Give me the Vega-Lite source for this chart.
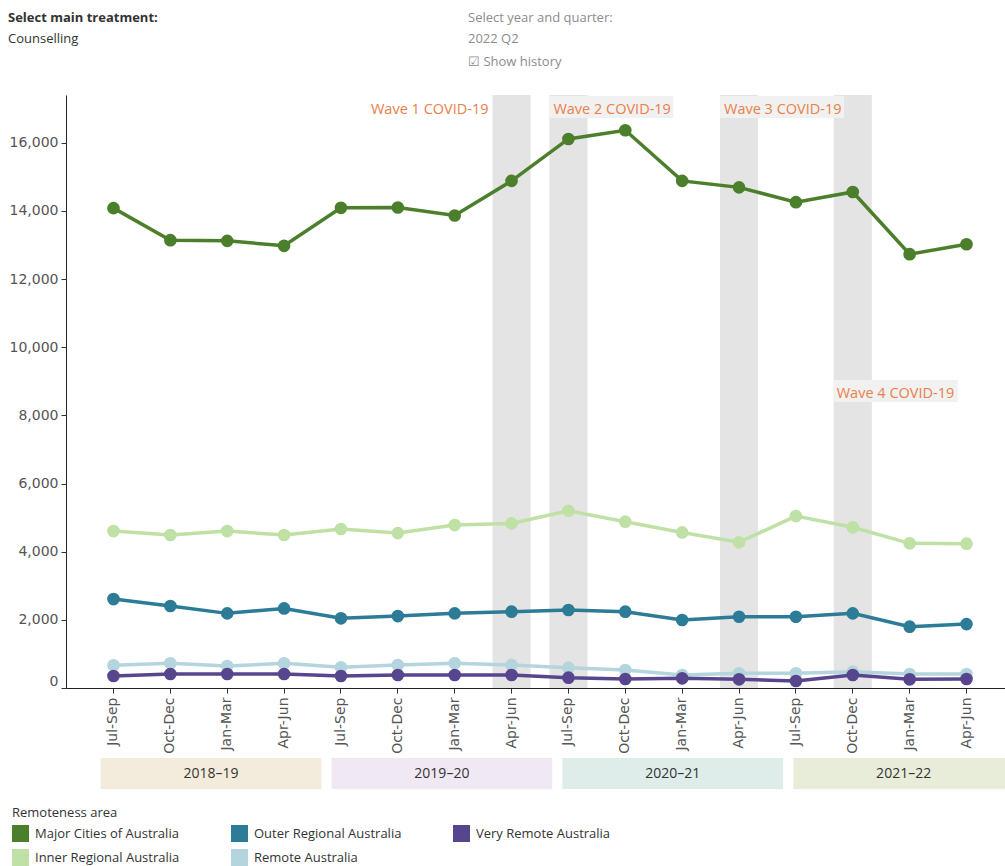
{
  "$schema": "https://vega.github.io/schema/vega-lite/v6.json",
  "background": "white",
  "padding": {"left": 8, "top": 12, "right": 0, "bottom": 0},
  "config": {
    "view": {"stroke": null},
    "font": "Open Sans",
    "axis": {"labelFont": "DejaVu Sans", "labelFontSize": 13, "labelColor": "#555555"},
    "concat": {"spacing": 4}
  },
  "datasets": {
    "series": [
      {"period": "2018–19 Jul-Sep", "area": "Major Cities of Australia", "value": 14080},
      {"period": "2018–19 Oct-Dec", "area": "Major Cities of Australia", "value": 13140},
      {"period": "2018–19 Jan-Mar", "area": "Major Cities of Australia", "value": 13120},
      {"period": "2018–19 Apr-Jun", "area": "Major Cities of Australia", "value": 12975},
      {"period": "2019–20 Jul-Sep", "area": "Major Cities of Australia", "value": 14090},
      {"period": "2019–20 Oct-Dec", "area": "Major Cities of Australia", "value": 14100},
      {"period": "2019–20 Jan-Mar", "area": "Major Cities of Australia", "value": 13865},
      {"period": "2019–20 Apr-Jun", "area": "Major Cities of Australia", "value": 14880},
      {"period": "2020–21 Jul-Sep", "area": "Major Cities of Australia", "value": 16110},
      {"period": "2020–21 Oct-Dec", "area": "Major Cities of Australia", "value": 16365},
      {"period": "2020–21 Jan-Mar", "area": "Major Cities of Australia", "value": 14880},
      {"period": "2020–21 Apr-Jun", "area": "Major Cities of Australia", "value": 14690},
      {"period": "2021–22 Jul-Sep", "area": "Major Cities of Australia", "value": 14255},
      {"period": "2021–22 Oct-Dec", "area": "Major Cities of Australia", "value": 14555},
      {"period": "2021–22 Jan-Mar", "area": "Major Cities of Australia", "value": 12730},
      {"period": "2021–22 Apr-Jun", "area": "Major Cities of Australia", "value": 13020},
      {"period": "2018–19 Jul-Sep", "area": "Inner Regional Australia", "value": 4605},
      {"period": "2018–19 Oct-Dec", "area": "Inner Regional Australia", "value": 4490},
      {"period": "2018–19 Jan-Mar", "area": "Inner Regional Australia", "value": 4605},
      {"period": "2018–19 Apr-Jun", "area": "Inner Regional Australia", "value": 4490},
      {"period": "2019–20 Jul-Sep", "area": "Inner Regional Australia", "value": 4665},
      {"period": "2019–20 Oct-Dec", "area": "Inner Regional Australia", "value": 4545},
      {"period": "2019–20 Jan-Mar", "area": "Inner Regional Australia", "value": 4780},
      {"period": "2019–20 Apr-Jun", "area": "Inner Regional Australia", "value": 4830},
      {"period": "2020–21 Jul-Sep", "area": "Inner Regional Australia", "value": 5200},
      {"period": "2020–21 Oct-Dec", "area": "Inner Regional Australia", "value": 4880},
      {"period": "2020–21 Jan-Mar", "area": "Inner Regional Australia", "value": 4565},
      {"period": "2020–21 Apr-Jun", "area": "Inner Regional Australia", "value": 4275},
      {"period": "2021–22 Jul-Sep", "area": "Inner Regional Australia", "value": 5045},
      {"period": "2021–22 Oct-Dec", "area": "Inner Regional Australia", "value": 4715},
      {"period": "2021–22 Jan-Mar", "area": "Inner Regional Australia", "value": 4245},
      {"period": "2021–22 Apr-Jun", "area": "Inner Regional Australia", "value": 4235},
      {"period": "2018–19 Jul-Sep", "area": "Outer Regional Australia", "value": 2610},
      {"period": "2018–19 Oct-Dec", "area": "Outer Regional Australia", "value": 2405},
      {"period": "2018–19 Jan-Mar", "area": "Outer Regional Australia", "value": 2190},
      {"period": "2018–19 Apr-Jun", "area": "Outer Regional Australia", "value": 2335},
      {"period": "2019–20 Jul-Sep", "area": "Outer Regional Australia", "value": 2045},
      {"period": "2019–20 Oct-Dec", "area": "Outer Regional Australia", "value": 2110},
      {"period": "2019–20 Jan-Mar", "area": "Outer Regional Australia", "value": 2190},
      {"period": "2019–20 Apr-Jun", "area": "Outer Regional Australia", "value": 2240},
      {"period": "2020–21 Jul-Sep", "area": "Outer Regional Australia", "value": 2290},
      {"period": "2020–21 Oct-Dec", "area": "Outer Regional Australia", "value": 2240},
      {"period": "2020–21 Jan-Mar", "area": "Outer Regional Australia", "value": 1995},
      {"period": "2020–21 Apr-Jun", "area": "Outer Regional Australia", "value": 2090},
      {"period": "2021–22 Jul-Sep", "area": "Outer Regional Australia", "value": 2090},
      {"period": "2021–22 Oct-Dec", "area": "Outer Regional Australia", "value": 2190},
      {"period": "2021–22 Jan-Mar", "area": "Outer Regional Australia", "value": 1800},
      {"period": "2021–22 Apr-Jun", "area": "Outer Regional Australia", "value": 1875},
      {"period": "2018–19 Jul-Sep", "area": "Remote Australia", "value": 665},
      {"period": "2018–19 Oct-Dec", "area": "Remote Australia", "value": 724},
      {"period": "2018–19 Jan-Mar", "area": "Remote Australia", "value": 645},
      {"period": "2018–19 Apr-Jun", "area": "Remote Australia", "value": 724},
      {"period": "2019–20 Jul-Sep", "area": "Remote Australia", "value": 606},
      {"period": "2019–20 Oct-Dec", "area": "Remote Australia", "value": 675},
      {"period": "2019–20 Jan-Mar", "area": "Remote Australia", "value": 724},
      {"period": "2019–20 Apr-Jun", "area": "Remote Australia", "value": 675},
      {"period": "2020–21 Jul-Sep", "area": "Remote Australia", "value": 596},
      {"period": "2020–21 Oct-Dec", "area": "Remote Australia", "value": 528},
      {"period": "2020–21 Jan-Mar", "area": "Remote Australia", "value": 381},
      {"period": "2020–21 Apr-Jun", "area": "Remote Australia", "value": 430},
      {"period": "2021–22 Jul-Sep", "area": "Remote Australia", "value": 430},
      {"period": "2021–22 Oct-Dec", "area": "Remote Australia", "value": 479},
      {"period": "2021–22 Jan-Mar", "area": "Remote Australia", "value": 411},
      {"period": "2021–22 Apr-Jun", "area": "Remote Australia", "value": 411},
      {"period": "2018–19 Jul-Sep", "area": "Very Remote Australia", "value": 352},
      {"period": "2018–19 Oct-Dec", "area": "Very Remote Australia", "value": 411},
      {"period": "2018–19 Jan-Mar", "area": "Very Remote Australia", "value": 411},
      {"period": "2018–19 Apr-Jun", "area": "Very Remote Australia", "value": 411},
      {"period": "2019–20 Jul-Sep", "area": "Very Remote Australia", "value": 352},
      {"period": "2019–20 Oct-Dec", "area": "Very Remote Australia", "value": 381},
      {"period": "2019–20 Jan-Mar", "area": "Very Remote Australia", "value": 381},
      {"period": "2019–20 Apr-Jun", "area": "Very Remote Australia", "value": 381},
      {"period": "2020–21 Jul-Sep", "area": "Very Remote Australia", "value": 303},
      {"period": "2020–21 Oct-Dec", "area": "Very Remote Australia", "value": 264},
      {"period": "2020–21 Jan-Mar", "area": "Very Remote Australia", "value": 284},
      {"period": "2020–21 Apr-Jun", "area": "Very Remote Australia", "value": 255},
      {"period": "2021–22 Jul-Sep", "area": "Very Remote Australia", "value": 205},
      {"period": "2021–22 Oct-Dec", "area": "Very Remote Australia", "value": 381},
      {"period": "2021–22 Jan-Mar", "area": "Very Remote Australia", "value": 255},
      {"period": "2021–22 Apr-Jun", "area": "Very Remote Australia", "value": 264}
    ],
    "waves": [
      {"period": "2019–20 Apr-Jun", "wave": "Wave 1 COVID-19"},
      {"period": "2020–21 Jul-Sep", "wave": "Wave 2 COVID-19"},
      {"period": "2020–21 Apr-Jun", "wave": "Wave 3 COVID-19"},
      {"period": "2021–22 Oct-Dec", "wave": "Wave 4 COVID-19"}
    ],
    "years": [
      {"fy": "2018–19"},
      {"fy": "2019–20"},
      {"fy": "2020–21"},
      {"fy": "2021–22"}
    ],
    "blank": [{"k": 1}]
  },
  "vconcat": [
    {
      "hconcat": [
        {
          "width": 394, "height": 18,
          "data": {"name": "blank"},
          "mark": {"type": "text"},
          "encoding": {"text": {"value": ""}},
          "title": {"text": "Select main treatment:", "subtitle": ["Counselling", "\u00a0"], "anchor": "start", "frame": "group", "dx": -58, "fontSize": 13, "fontWeight": "bold", "color": "#333333", "subtitleFontSize": 13, "subtitleColor": "#333333", "subtitlePadding": 8, "subtitleLineHeight": 23, "font": "Open Sans", "subtitleFont": "Open Sans"}
        },
        {
          "width": 300, "height": 18,
          "data": {"name": "blank"},
          "mark": {"type": "text"},
          "encoding": {"text": {"value": ""}},
          "title": {"text": "Select year and quarter:", "subtitle": ["2022 Q2", "☑ Show history"], "anchor": "start", "frame": "group", "fontSize": 13, "fontWeight": "normal", "color": "#8c8c8c", "subtitleFontSize": 13, "subtitleColor": "#8c8c8c", "subtitlePadding": 8, "subtitleLineHeight": 23, "font": "Open Sans", "subtitleFont": "Open Sans"}
        }
      ],
      "spacing": 8
    },
    {
      "width": 948,
      "height": 593,
      "encoding": {
        "x": {
          "field": "period", "type": "ordinal", "title": null,
          "scale": {
            "domain": ["2018–19 Jul-Sep", "2018–19 Oct-Dec", "2018–19 Jan-Mar", "2018–19 Apr-Jun", "2019–20 Jul-Sep", "2019–20 Oct-Dec", "2019–20 Jan-Mar", "2019–20 Apr-Jun", "2020–21 Jul-Sep", "2020–21 Oct-Dec", "2020–21 Jan-Mar", "2020–21 Apr-Jun", "2021–22 Jul-Sep", "2021–22 Oct-Dec", "2021–22 Jan-Mar", "2021–22 Apr-Jun"],
            "paddingInner": 0.33, "paddingOuter": 0.5
          },
          "axis": {"labelAngle": -90, "labelExpr": "split(datum.value, ' ')[1]", "bandPosition": 0.5, "tickSize": 5, "tickColor": "#333333", "domainColor": "#222222", "labelPadding": 4, "labelBaseline": "middle", "labelAlign": "right", "labelFont": "DejaVu Sans", "labelFontSize": 14}
        }
      },
      "layer": [
        {
          "data": {"name": "waves"},
          "mark": {"type": "rect", "color": "#e4e4e4"},
          "encoding": {}
        },
        {
          "data": {"name": "waves"},
          "transform": [{"filter": "datum.wave === 'Wave 2 COVID-19' || datum.wave === 'Wave 3 COVID-19'"}],
          "mark": {"type": "bar", "color": "#f1f1f1", "width": 124, "xOffset": 43},
          "encoding": {
            "y": {"datum": 16725, "type": "quantitative"},
            "y2": {"datum": 17367}
          }
        },
        {
          "data": {"name": "waves"},
          "transform": [{"filter": "datum.wave === 'Wave 4 COVID-19'"}],
          "mark": {"type": "bar", "color": "#f1f1f1", "width": 124, "xOffset": 43},
          "encoding": {
            "y": {"datum": 8392, "type": "quantitative"},
            "y2": {"datum": 9037}
          }
        },
        {
          "data": {"name": "series"},
          "mark": {"type": "line", "strokeWidth": 3.5},
          "encoding": {
            "y": {
              "field": "value", "type": "quantitative", "title": null,
              "scale": {"domain": [0, 17400], "nice": false},
              "axis": {"values": [0, 2000, 4000, 6000, 8000, 10000, 12000, 14000, 16000], "format": ",.0f", "gridColor": "#efefef", "domainColor": "#222222", "tickColor": "#333333", "tickSize": 5, "labelPadding": 3, "labelFlush": true, "labelFont": "DejaVu Sans", "labelFontSize": 14}
            },
            "color": {
              "field": "area", "type": "nominal",
              "scale": {
                "domain": ["Major Cities of Australia", "Outer Regional Australia", "Very Remote Australia", "Inner Regional Australia", "Remote Australia"],
                "range": ["#4c7f2b", "#2c7b97", "#57468e", "#bfe1a6", "#b4d5dd"]
              },
              "legend": {
                "title": "Remoteness area", "orient": "none", "legendX": -54, "legendY": 734, "direction": "horizontal", "columns": 3,
                "titleFontWeight": "normal", "titleFontSize": 13, "titleColor": "#333333", "titleFont": "Open Sans",
                "labelFontSize": 13, "labelColor": "#333333", "labelFont": "Open Sans",
                "symbolType": "square", "symbolSize": 289, "symbolStrokeWidth": 0, "symbolOpacity": 1,
                "columnPadding": 51, "rowPadding": 7, "labelOffset": 6
              }
            }
          }
        },
        {
          "data": {"name": "series"},
          "mark": {"type": "point", "filled": true, "size": 160, "opacity": 1},
          "encoding": {
            "y": {"field": "value", "type": "quantitative"},
            "color": {"field": "area", "type": "nominal"}
          }
        },
        {
          "data": {"name": "waves"},
          "transform": [{"filter": "datum.wave === 'Wave 1 COVID-19'"}],
          "mark": {"type": "text", "align": "right", "baseline": "middle", "dx": -4, "fontSize": 14.5, "font": "Open Sans", "color": "#e8804a"},
          "encoding": {
            "x": {"field": "period", "type": "ordinal", "bandPosition": 0},
            "y": {"datum": 16950, "type": "quantitative"},
            "text": {"field": "wave"}
          }
        },
        {
          "data": {"name": "waves"},
          "transform": [{"filter": "datum.wave === 'Wave 2 COVID-19' || datum.wave === 'Wave 3 COVID-19'"}],
          "mark": {"type": "text", "align": "left", "baseline": "middle", "dx": 4, "fontSize": 14.5, "font": "Open Sans", "color": "#e8804a"},
          "encoding": {
            "x": {"field": "period", "type": "ordinal", "bandPosition": 0},
            "y": {"datum": 16950, "type": "quantitative"},
            "text": {"field": "wave"}
          }
        },
        {
          "data": {"name": "waves"},
          "transform": [{"filter": "datum.wave === 'Wave 4 COVID-19'"}],
          "mark": {"type": "text", "align": "left", "baseline": "middle", "dx": 3, "fontSize": 14.5, "font": "Open Sans", "color": "#e8804a"},
          "encoding": {
            "x": {"field": "period", "type": "ordinal", "bandPosition": 0},
            "y": {"datum": 8620, "type": "quantitative"},
            "text": {"field": "wave"}
          }
        }
      ]
    },
    {
      "width": 948,
      "height": 31,
      "data": {"name": "years"},
      "layer": [
        {
          "mark": {"type": "rect"},
          "encoding": {
            "fill": {"field": "fy", "type": "nominal", "scale": {"range": ["#f3ecdc", "#f0e8f2", "#deecea", "#e8edd9"]}, "legend": null}
          }
        },
        {
          "mark": {"type": "text", "fontSize": 14, "font": "Open Sans", "color": "#333333"},
          "encoding": {"text": {"field": "fy"}}
        }
      ],
      "encoding": {
        "x": {"field": "fy", "type": "nominal", "sort": null, "scale": {"paddingInner": 0.044, "paddingOuter": 0.075, "align": 1}, "axis": null}
      }
    }
  ]
}
